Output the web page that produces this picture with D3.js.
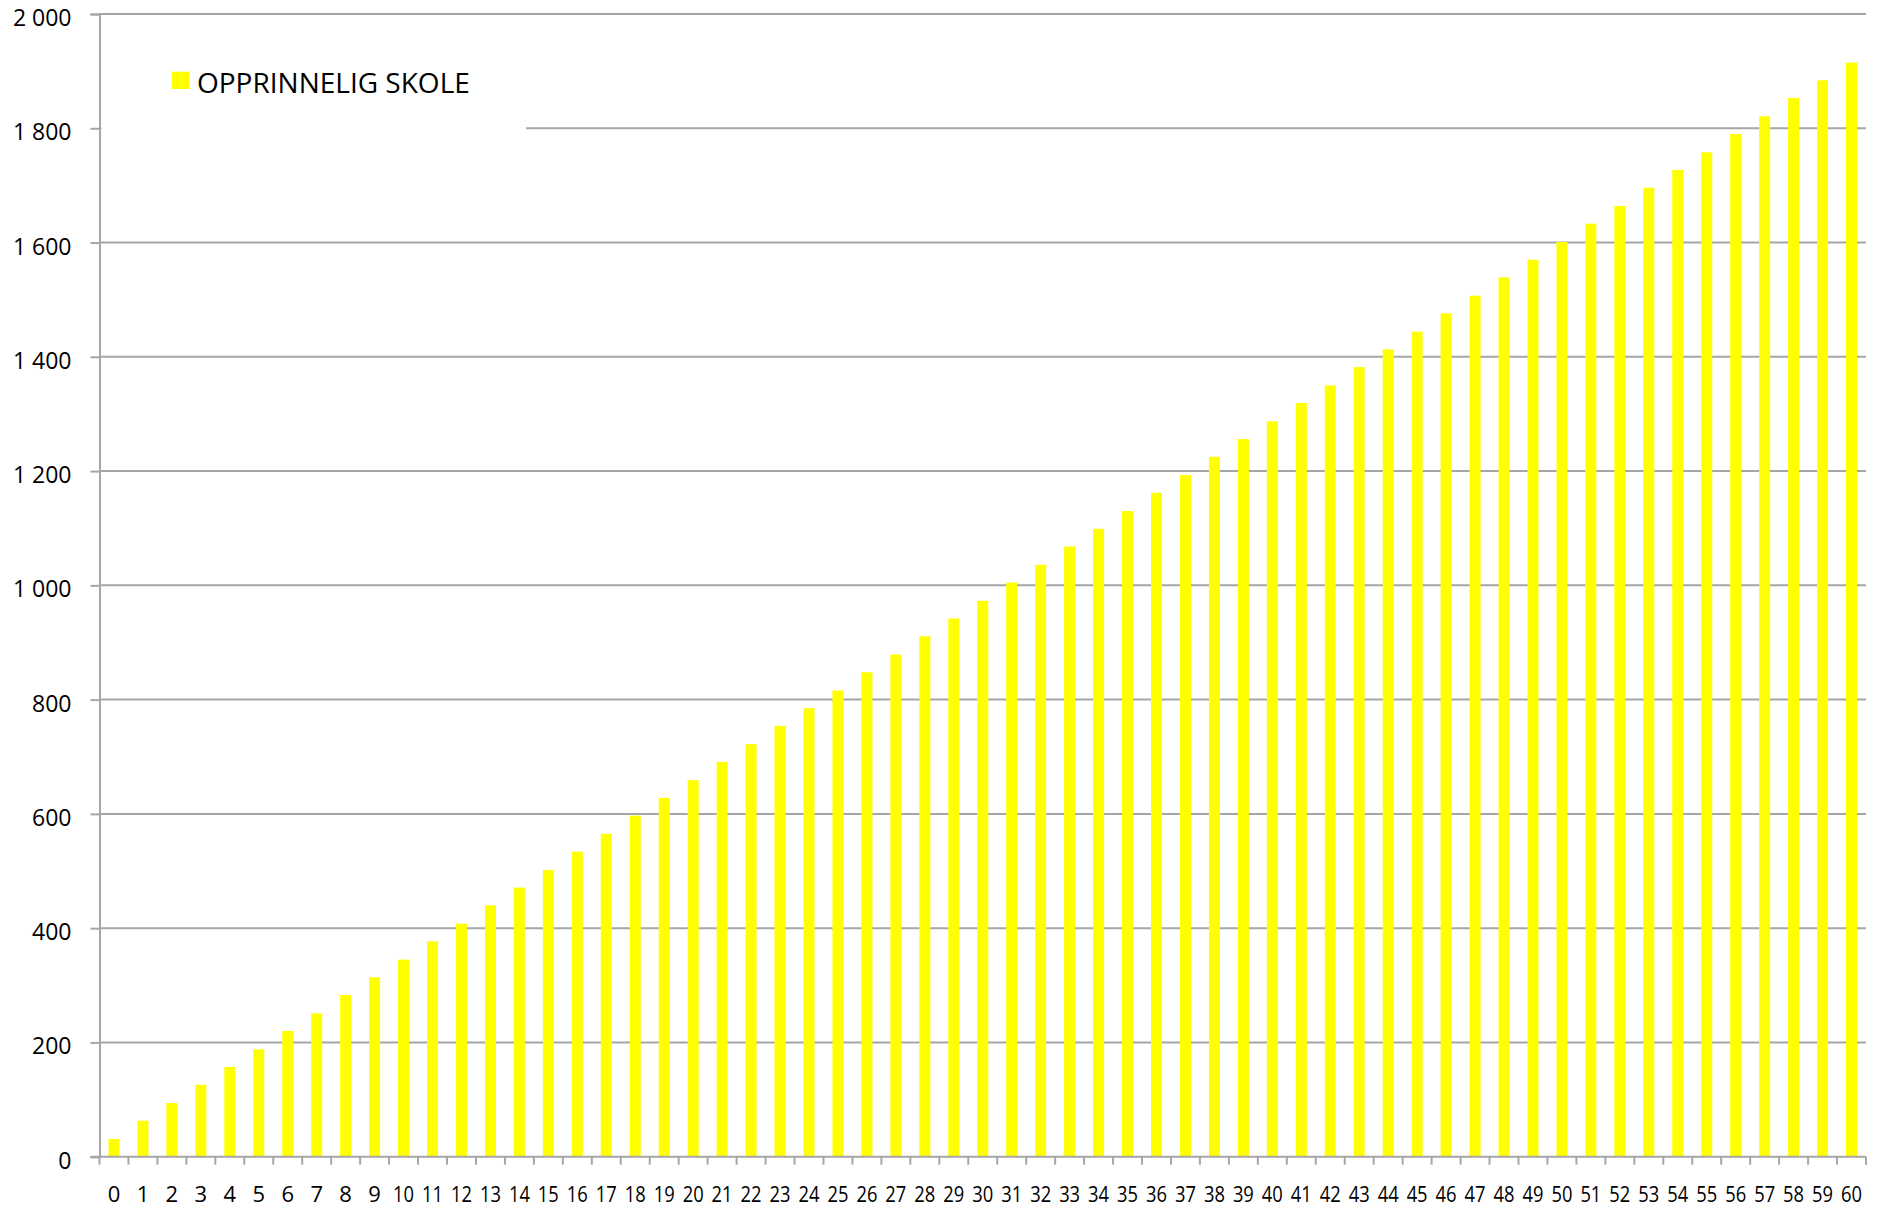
<!DOCTYPE html>
<html>
<head>
<meta charset="utf-8">
<script src="https://cdn.jsdelivr.net/npm/d3@7"></script>
<style>
  html, body { margin: 0; padding: 0; background: #ffffff; }
  svg { display: block; }
  text { font-family: "Open Sans", "Noto Sans", sans-serif; fill: #000; }
</style>
</head>
<body>
<svg id="chart" width="1877" height="1210"></svg>
<script>
// ---- data ----
const categories = d3.range(0, 61).map(String);
const values = [31, 63, 94, 126, 157, 188, 220, 251, 283, 314,
                345, 377, 408, 440, 471, 502, 534, 565, 597, 628,
                659, 691, 722, 754, 785, 816, 848, 879, 911, 942,
                973, 1005, 1036, 1068, 1099, 1130, 1162, 1193, 1225, 1256,
                1287, 1319, 1350, 1382, 1413, 1444, 1476, 1507, 1539, 1570,
                1601, 1633, 1664, 1696, 1727, 1758, 1790, 1821, 1853, 1884,
                1915];
const yTicks = [0, 200, 400, 600, 800, 1000, 1200, 1400, 1600, 1800, 2000];
const yTickLabels = ["0", "200", "400", "600", "800", "1 000", "1 200", "1 400", "1 600", "1 800", "2 000"];
const seriesName = "OPPRINNELIG SKOLE";

// ---- layout ----
const svg = d3.select("#chart");
const plotL = 99.5, plotR = 1866, plotT = 14, plotB = 1156.7;
const gridColor = "#a6a6a6";
const barColor = "#ffff00";

const x = d3.scaleBand().domain(categories).range([plotL, plotR]).padding(0);
const y = d3.scaleLinear().domain([0, 2000]).range([plotB, plotT]);

// gridlines
svg.append("g").selectAll("line")
  .data(yTicks.filter(d => d > 0))
  .join("line")
  .attr("x1", plotL).attr("x2", plotR)
  .attr("y1", d => y(d)).attr("y2", d => y(d))
  .attr("stroke", gridColor).attr("stroke-width", 2);

// bars
const barW = x.bandwidth() * 0.38;
svg.append("g").selectAll("rect")
  .data(values)
  .join("rect")
  .attr("x", (d, i) => x(categories[i]) + x.bandwidth() / 2 - barW / 2)
  .attr("width", barW)
  .attr("y", d => y(d))
  .attr("height", d => y(0) - y(d))
  .attr("fill", barColor);

// y axis
const yAxis = d3.axisLeft(y).tickValues(yTicks)
  .tickFormat((d, i) => yTickLabels[i]).tickSize(9).tickPadding(19);
const gy = svg.append("g").attr("transform", `translate(${plotL},0)`).call(yAxis);
gy.select(".domain").attr("stroke", gridColor).attr("stroke-width", 2);
gy.selectAll(".tick line").attr("stroke", gridColor).attr("stroke-width", 2);
gy.selectAll(".tick text")
  .attr("font-family", "Open Sans")
  .attr("font-size", 23)
  .attr("fill", "#000")
  .attr("dy", null)
  .attr("y", 11.5);

// x axis: ticks at category boundaries
const boundaries = categories.map(c => x(c)).concat([plotR]);
const gx = svg.append("g");
gx.append("line")
  .attr("x1", plotL - 9).attr("x2", plotR)
  .attr("y1", plotB).attr("y2", plotB)
  .attr("stroke", gridColor).attr("stroke-width", 2);
gx.selectAll("line.tk")
  .data(boundaries)
  .join("line").attr("class", "tk")
  .attr("x1", d => d).attr("x2", d => d)
  .attr("y1", plotB).attr("y2", plotB + 8)
  .attr("stroke", gridColor).attr("stroke-width", 2);
gx.selectAll("text")
  .data(categories)
  .join("text")
  .attr("x", d => x(d) + x.bandwidth() / 2)
  .attr("y", 1202)
  .attr("text-anchor", "middle")
  .attr("font-size", 22)
  .each(function(d) {
    const t = d3.select(this).text(d);
    if (d.length > 1) t.attr("textLength", 21).attr("lengthAdjust", "spacingAndGlyphs");
  });

// legend
const lg = svg.append("g");
lg.append("rect").attr("x", plotL + 2).attr("y", 30).attr("width", 526 - plotL - 2).attr("height", 108).attr("fill", "#fff");
lg.append("rect").attr("x", 171.7).attr("y", 71.7).attr("width", 17.3).attr("height", 17.3).attr("fill", barColor);
lg.append("text").attr("x", 197).attr("y", 93.3).attr("font-size", 28).text(seriesName);
</script>
</body>
</html>
